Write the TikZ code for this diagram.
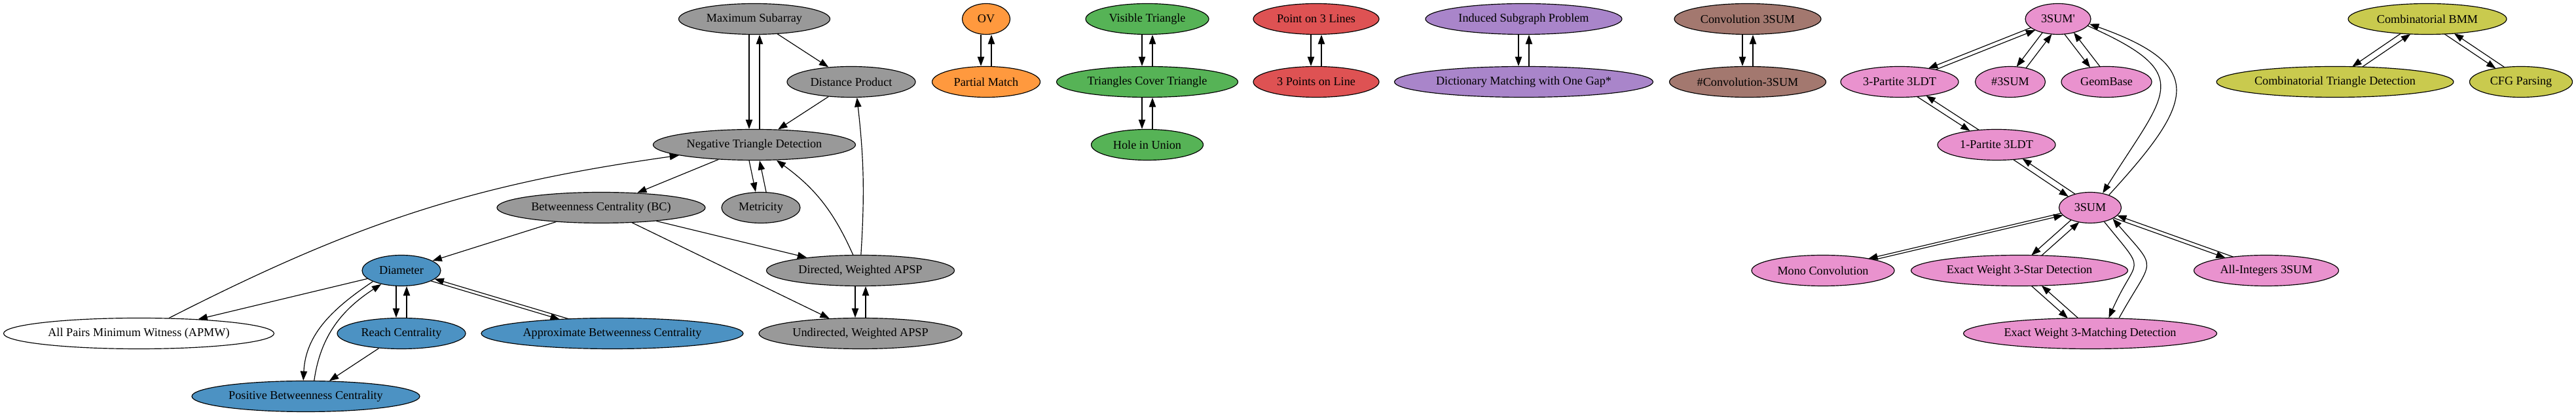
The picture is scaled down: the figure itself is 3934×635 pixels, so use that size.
\documentclass[tikz,border=0pt]{standalone}
\usepackage{fontspec}
\setmainfont{Liberation Serif}
\usetikzlibrary{shapes.geometric,arrows.meta,intersections,calc}
\definecolor{cgray}{HTML}{999999}
\definecolor{cblue}{HTML}{4C92C3}
\definecolor{corange}{HTML}{FF993E}
\definecolor{cgreen}{HTML}{56B356}
\definecolor{cred}{HTML}{DE5253}
\definecolor{cpurple}{HTML}{A985CA}
\definecolor{cbrown}{HTML}{A3786F}
\definecolor{cpink}{HTML}{E992CE}
\definecolor{colive}{HTML}{C9CA4E}
\tikzset{
  box/.style={ellipse, draw, line width=0.9pt, minimum height=36.15pt, inner sep=0pt,
    font=\fontsize{14pt}{16pt}\selectfont},
  arr/.style={-{Triangle[length=11pt,width=8pt]}, line width=0.9pt},
}
\newcommand\nd[6]{\node[box,fill=#2,minimum width=#5*0.7692pt,name path=P#1] (#1) at (#3,#4) {#6};}
% oblique pair: #1 upper node, #2 lower node
\newcommand\pair[2]{%
  \path[name path=pairL] ([xshift=-6.15pt]#1.center) -- ([xshift=-6.15pt]#2.center);
  \path[name intersections={of=pairL and P#1, by=pA}];
  \path[name intersections={of=pairL and P#2, by=pB}];
  \draw[arr] (pA) -- (pB);
  \path[name path=pairR] ([xshift=6.15pt]#2.center) -- ([xshift=6.15pt]#1.center);
  \path[name intersections={of=pairR and P#2, by=pC}];
  \path[name intersections={of=pairR and P#1, by=pD}];
  \draw[arr] (pC) -- (pD);
}
% vertical pair: #1 upper node, #2 lower node
\newcommand\vpair[2]{%
  \draw[arr] ([xshift=-6.15pt]#1.south) -- ([xshift=-6.15pt]#2.north);
  \draw[arr] ([xshift=6.15pt]#2.north) -- ([xshift=6.15pt]#1.south);
}
\begin{document}
\begin{tikzpicture}[x=0.7692pt,y=0.7692pt]
\useasboundingbox (0,0) rectangle (3934,635);
% gray
\nd{ms}{cgray}{1152}{606}{231}{Maximum Subarray}
\nd{dp}{cgray}{1300}{510}{196}{Distance Product}
\nd{ntd}{cgray}{1152}{414}{309}{Negative Triangle Detection}
\nd{bc}{cgray}{918}{318}{318}{Betweenness Centrality (BC)}
\nd{met}{cgray}{1162}{318}{120}{Metricity}
\nd{dw}{cgray}{1314}{222}{287}{Directed, Weighted APSP}
\nd{uw}{cgray}{1314}{126}{310}{Undirected, Weighted APSP}
% blue
\nd{dia}{cblue}{613}{222}{120}{Diameter}
\nd{rc}{cblue}{613}{126}{196}{Reach Centrality}
\nd{abc}{cblue}{935}{126}{400}{Approximate Betweenness Centrality}
\nd{pbc}{cblue}{467}{30}{348}{Positive Betweenness Centrality}
\nd{apmw}{white}{212}{126}{413}{All Pairs Minimum Witness (APMW)}
% orange
\nd{ov}{corange}{1506}{606}{73}{OV}
\nd{pm}{corange}{1506}{510}{165}{Partial Match}
% green
\nd{vt}{cgreen}{1752}{606}{188}{Visible Triangle}
\nd{tct}{cgreen}{1752}{510}{277}{Triangles Cover Triangle}
\nd{hu}{cgreen}{1752}{414}{171}{Hole in Union}
% red
\nd{pol}{cred}{2010}{606}{192}{Point on 3 Lines}
\nd{tpl}{cred}{2010}{510}{192}{3 Points on Line}
% purple
\nd{isp}{cpurple}{2327}{606}{300}{Induced Subgraph Problem}
\nd{dm}{cpurple}{2327}{510}{395}{Dictionary Matching with One Gap*}
% brown
\nd{cv}{cbrown}{2669}{606}{224}{Convolution 3SUM}
\nd{hcv}{cbrown}{2669}{510}{239}{\#Convolution-3SUM}
% pink
\nd{sp}{cpink}{3143}{606}{100}{3SUM\textquotesingle}
\nd{tp}{cpink}{2901}{510}{180}{3-Partite 3LDT}
\nd{hs}{cpink}{3070}{510}{107}{\#3SUM}
\nd{gb}{cpink}{3217}{510}{138}{GeomBase}
\nd{op}{cpink}{3049}{414}{180}{1-Partite 3LDT}
\nd{ss}{cpink}{3192}{318}{95}{3SUM}
\nd{mc}{cpink}{2784}{222}{218}{Mono Convolution}
\nd{ews}{cpink}{3084}{222}{331}{Exact Weight 3-Star Detection}
\nd{ai}{cpink}{3461}{222}{221}{All-Integers 3SUM}
\nd{ewm}{cpink}{3192}{126}{387}{Exact Weight 3-Matching Detection}
% olive
\nd{bmm}{colive}{3707}{606}{242}{Combinatorial BMM}
\nd{ctd}{colive}{3566}{510}{362}{Combinatorial Triangle Detection}
\nd{cfg}{colive}{3850}{510}{157}{CFG Parsing}

% single edges
\draw[arr] (ms) -- (dp);
\draw[arr] (dp) -- (ntd);
\draw[arr] (ntd) -- (bc);
\draw[arr] (bc) -- (dia);
\draw[arr] (bc) -- (dw);
\draw[arr] (bc) -- (uw);
\draw[arr] (dw) to[bend right=15] (ntd);
\draw[arr] (dw.88) to[bend right=5] (dp.-70);
\draw[arr] (apmw) to[out=27, in=188] (ntd);
\draw[arr] (dia) -- (apmw);
\draw[arr] (rc) -- (pbc);
% curved pairs
\draw[arr] (dia.-159) to[out=-146, in=87] (pbc.99);
\draw[arr] (pbc.62) to[out=82, in=-147] (dia.-146);
\draw[arr] (sp.-13) to[out=-24, in=58, looseness=1.82] (ss.49);
\draw[arr] (ss.34) to[out=47.5, in=-19.5, looseness=1.87] (sp.-9);
\draw[arr] (ss.-45) to[out=-51, in=66, looseness=1.86] (ewm.40);
\draw[arr] (ewm.28) to[out=61, in=-49, looseness=1.81] (ss.-26);
% vertical pairs
\vpair{ms}{ntd}
\vpair{ntd}{met}
\vpair{dw}{uw}
\vpair{dia}{rc}
\vpair{ov}{pm}
\vpair{vt}{tct}
\vpair{tct}{hu}
\vpair{pol}{tpl}
\vpair{isp}{dm}
\vpair{cv}{hcv}
% oblique pairs
\pair{dia}{abc}
\pair{sp}{tp}
\pair{sp}{hs}
\pair{sp}{gb}
\pair{tp}{op}
\pair{op}{ss}
\pair{ss}{mc}
\pair{ss}{ews}
\pair{ss}{ai}
\pair{ews}{ewm}
\pair{bmm}{ctd}
\pair{bmm}{cfg}
\end{tikzpicture}
\end{document}
